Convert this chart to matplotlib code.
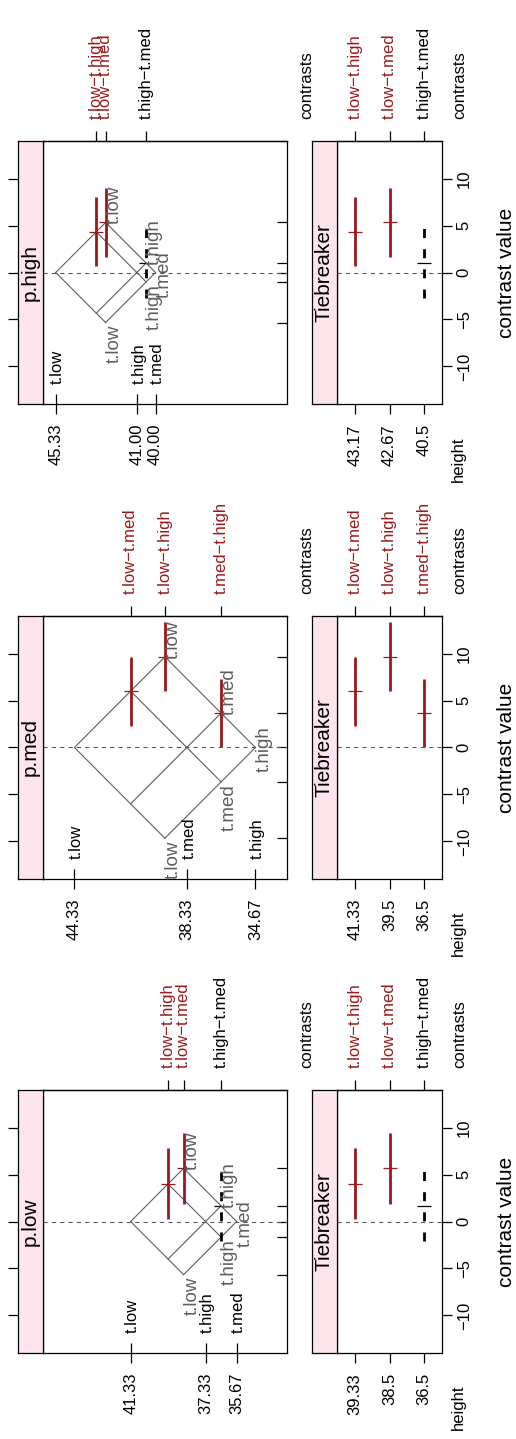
import numpy as np
import matplotlib
matplotlib.use('Agg')
import matplotlib.pyplot as plt
import matplotlib.transforms as mtransforms

plt.rcParams['font.family'] = ['Liberation Sans', 'DejaVu Sans']
plt.rcParams['axes.linewidth'] = 0.9

# group means, one set per panel
low_groups = ['t.low', 't.high', 't.med']
low_means = [41.33, 37.33, 35.67]
low_mean_labels = ['41.33', '37.33', '35.67']
med_groups = ['t.low', 't.med', 't.high']
med_means = [44.33, 38.33, 34.67]
med_mean_labels = ['44.33', '38.33', '34.67']
high_groups = ['t.low', 't.high', 't.med']
high_means = [45.33, 41.00, 40.00]
high_mean_labels = ['45.33', '41.00', '40.00']

# contrasts (ordered by height) with estimate and interval
low_contrasts = ['t.low−t.high', 't.low−t.med', 't.high−t.med']
low_heights = [39.33, 38.5, 36.5]
low_height_labels = ['39.33', '38.5', '36.5']
low_est = [4.00, 5.67, 1.67]
low_lower = [0.22, 1.89, -2.11]
low_upper = [7.78, 9.45, 5.45]
low_signif = [True, True, False]

med_contrasts = ['t.low−t.med', 't.low−t.high', 't.med−t.high']
med_heights = [41.33, 39.5, 36.5]
med_height_labels = ['41.33', '39.5', '36.5']
med_est = [6.00, 9.67, 3.67]
med_lower = [2.30, 5.97, 0.01]
med_upper = [9.67, 13.32, 7.33]
med_signif = [True, True, True]

high_contrasts = ['t.low−t.high', 't.low−t.med', 't.high−t.med']
high_heights = [43.17, 42.67, 40.5]
high_height_labels = ['43.17', '42.67', '40.5']
high_est = [4.33, 5.33, 1.00]
high_lower = [0.64, 1.64, -2.70]
high_upper = [8.01, 9.00, 4.72]
high_signif = [True, True, False]

panels = [
    dict(name='p.low', top=1090, groups=low_groups, means=low_means, mean_labels=low_mean_labels,
         contrasts=low_contrasts, heights=low_heights, height_labels=low_height_labels,
         est=low_est, lower=low_lower, upper=low_upper, signif=low_signif),
    dict(name='p.med', top=616, groups=med_groups, means=med_means, mean_labels=med_mean_labels,
         contrasts=med_contrasts, heights=med_heights, height_labels=med_height_labels,
         est=med_est, lower=med_lower, upper=med_upper, signif=med_signif),
    dict(name='p.high', top=141, groups=high_groups, means=high_means, mean_labels=high_mean_labels,
         contrasts=high_contrasts, heights=high_heights, height_labels=high_height_labels,
         est=high_est, lower=high_lower, upper=high_upper, signif=high_signif),
]

W, H = 516, 1439
fig = plt.figure(figsize=(W / 100, H / 100), dpi=100)

red = '#9a1a1a'
grid_col = '#5e5e5e'
strip_col = '#fde5ec'
hlim = (46.01, 32.98)
clim = (-14.0, 14.0)
cticks = [-10, -5, 0, 5, 10]


def box(x0, y0, x1, y1):
    return [x0 / W, 1 - y1 / H, (x1 - x0) / W, (y1 - y0) / H]


def intervals(ax, x, est, lower, upper, signif):
    for xi, e, l, u, s in zip(x, est, lower, upper, signif):
        c = red if s else 'black'
        ls = '-' if s else (0, (3.25, 4))
        ax.plot([xi, xi], [l, u], color=c, lw=2, ls=ls, solid_capstyle='butt', dash_capstyle='butt')
        ax.plot([xi], [e], marker='_', ms=9.5, mew=0.9, color=c)


def top_axis(ax, ticks, labels, signif):
    top = ax.secondary_xaxis('top')
    top.set_xticks(ticks, labels=labels)
    top.tick_params(axis='x', direction='out', length=7.2, width=0.9, pad=8.4,
                    labelrotation=90, labelsize=12)
    for t, s in zip(top.xaxis.get_major_ticks(), signif):
        c = red if s else 'black'
        for item in (t.tick1line, t.tick2line, t.label1, t.label2):
            item.set_color(c)


def strip(x0, x1, y0, y1, label, ticks):
    st = fig.add_axes(box(x0, y0, x1, y1), facecolor=strip_col)
    st.set_ylim(*clim)
    st.set_xticks([])
    if ticks:
        st.set_yticks(cticks)
        st.tick_params(axis='y', direction='out', length=7.2, width=0.9, labelleft=False)
    else:
        st.set_yticks([])
    st.text(0.5, 0.5, label, rotation=90, ha='center', va='center', fontsize=15,
            transform=st.transAxes)


for p in panels:
    y0 = p['top']
    y1 = y0 + 263
    ymid = (y0 + y1) / 2

    # mean-mean panel
    ax = fig.add_axes(box(43, y0, 287, y1))
    ax.set_xlim(*hlim)
    ax.set_ylim(*clim)
    m = np.array(p['means'])
    lo, hi = m.min(), m.max()
    lab_tr = mtransforms.offset_copy(ax.transData, fig=fig, x=8.5, y=-2, units='dots')
    for mi, g in zip(m, p['groups']):
        ax.plot([(mi + lo) / 2, (mi + hi) / 2], [mi - lo, mi - hi], color=grid_col, lw=0.8)
        ax.plot([(mi + lo) / 2, (mi + hi) / 2], [lo - mi, hi - mi], color=grid_col, lw=0.8)
        d = mi - lo
        kw = dict(rotation=90, ha='center', color=grid_col, fontsize=13.5, transform=lab_tr)
        if d > 0:
            ax.text((mi + lo) / 2, d, g, va='bottom', **kw)
            ax.text((mi + lo) / 2, -d, g, va='top', **kw)
        else:
            ax.text(mi, 0, g, va='center', **kw)
    ax.axhline(0, color='#555555', lw=0.75, ls=(0, (4, 4)))
    intervals(ax, p['heights'], p['est'], p['lower'], p['upper'], p['signif'])

    ax.set_xticks(m, labels=p['mean_labels'])
    ax.tick_params(axis='x', direction='inout', length=13.7, width=0.9, pad=7.2,
                   labelrotation=90, labelsize=12)
    in_tr = mtransforms.offset_copy(ax.get_xaxis_transform(), fig=fig, x=2, y=20, units='dots')
    for mi, g in zip(m, p['groups']):
        ax.text(mi, 0, g, rotation=90, ha='center', va='bottom', fontsize=12, transform=in_tr)
    ax.yaxis.tick_right()
    diffs = m - lo
    ax.set_yticks(np.unique(np.concatenate([-diffs, diffs])))
    ax.tick_params(axis='y', direction='in', length=7.2, width=0.9, labelright=False)
    top_axis(ax, p['heights'], p['contrasts'], p['signif'])
    strip(18, 43, y0, y1, p['name'], True)

    # tiebreaker panel
    tb = fig.add_axes(box(337, y0, 442, y1))
    tb.set_xlim(0.48, 3.52)
    tb.set_ylim(*clim)
    pos = np.arange(1, len(p['heights']) + 1)
    tb.axhline(0, color='#555555', lw=0.75, ls=(0, (4, 4)))
    intervals(tb, pos, p['est'], p['lower'], p['upper'], p['signif'])
    tb.set_xticks(pos, labels=p['height_labels'])
    tb.tick_params(axis='x', direction='out', length=7.2, width=0.9, pad=7.2,
                   labelrotation=90, labelsize=12)
    tb.yaxis.tick_right()
    tb.set_yticks(cticks)
    tb.tick_params(axis='y', direction='out', length=7.2, width=0.9, pad=3.5,
                   labelrotation=90, labelsize=12)
    plt.setp(tb.get_yticklabels(), va='center')
    top_axis(tb, pos, p['contrasts'], p['signif'])
    strip(312, 337, y0, y1, 'Tiebreaker', False)

    fig.text(307 / W, 1 - (y0 - 22) / H, 'contrasts', rotation=90, ha='center', va='bottom', fontsize=12)
    fig.text(460 / W, 1 - (y0 - 22) / H, 'contrasts', rotation=90, ha='center', va='bottom', fontsize=12)
    fig.text(458 / W, 1 - (y1 + 32) / H, 'height', rotation=90, ha='center', va='top', fontsize=12)
    fig.text(506 / W, 1 - ymid / H, 'contrast value', rotation=90, ha='center', va='center', fontsize=15)

fig.savefig('out.png', dpi=100)
